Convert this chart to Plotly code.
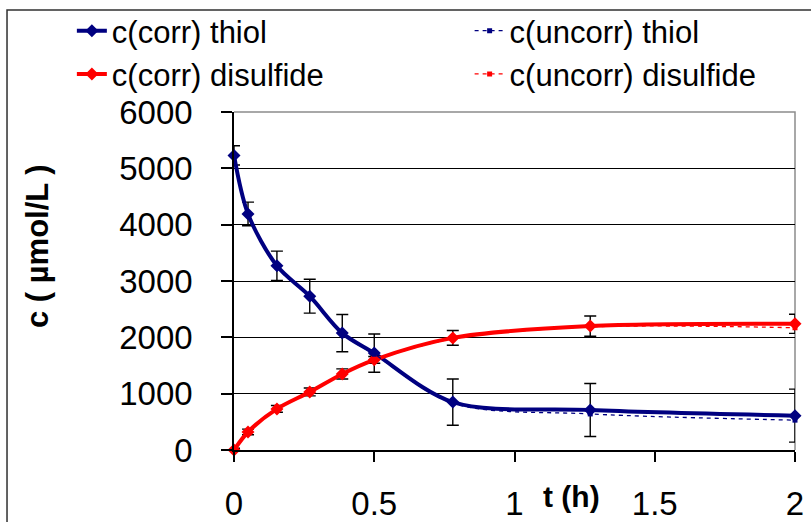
import plotly.graph_objects as go

# Sampling times (h)
t = [0.0, 0.05, 0.153, 0.27, 0.386, 0.5, 0.78, 1.27, 2.0]

# Corrected / uncorrected concentrations (µmol/L)
thiol_corr = [5230, 4190, 3270, 2730, 2075, 1720, 850, 710, 610]
thiol_corr_err = [170, 210, 260, 300, 330, 340, 410, 470, 470]
thiol_uncorr = [5220, 4180, 3250, 2710, 2060, 1700, 830, 640, 530]

disulf_corr = [0, 320, 730, 1030, 1350, 1600, 1990, 2200, 2240]
disulf_corr_err = [30, 50, 60, 70, 90, 60, 130, 180, 170]
disulf_uncorr = [0, 315, 725, 1025, 1340, 1590, 1975, 2185, 2170]

y_ticks = [0, 1000, 2000, 3000, 4000, 5000, 6000]
x_ticks = [0, 0.5, 1, 1.5, 2]
x_tick_text = ["0", "0.5", "1", "1.5", "2"]

NAVY = "#000080"
RED = "#FF0000"
FONT = "Arial, Liberation Sans, sans-serif"

err_style = dict(type="data", visible=True, color="black", thickness=1.4, width=6)

fig = go.Figure()
# corrected series (solid, with error bars) -> left legend column
fig.add_trace(go.Scatter(
    x=t, y=thiol_corr, name="c(corr) thiol", mode="lines+markers", legend="legend",
    line=dict(color=NAVY, width=4, shape="spline", smoothing=0.9),
    marker=dict(symbol="diamond", size=10, color=NAVY),
    error_y=dict(array=thiol_corr_err, **err_style), cliponaxis=False,
))
fig.add_trace(go.Scatter(
    x=t, y=disulf_corr, name="c(corr) disulfide", mode="lines+markers", legend="legend",
    line=dict(color=RED, width=4, shape="spline", smoothing=0.9),
    marker=dict(symbol="diamond", size=10, color=RED),
    error_y=dict(array=disulf_corr_err, **err_style), cliponaxis=False,
))
# uncorrected series (thin dashed) -> right legend column
fig.add_trace(go.Scatter(
    x=t, y=thiol_uncorr, name="c(uncorr) thiol", mode="lines+markers", legend="legend2",
    line=dict(color=NAVY, width=1.3, dash="4px,4px", shape="spline", smoothing=0.9),
    marker=dict(symbol="square", size=5, color=NAVY), cliponaxis=False,
))
fig.add_trace(go.Scatter(
    x=t, y=disulf_uncorr, name="c(uncorr) disulfide", mode="lines+markers", legend="legend2",
    line=dict(color=RED, width=1.3, dash="4px,4px", shape="spline", smoothing=0.9),
    marker=dict(symbol="square", size=5, color=RED), cliponaxis=False,
))

legend_common = dict(
    orientation="v", yanchor="top", xanchor="left", y=1.3195,
    font=dict(size=31), bgcolor="rgba(0,0,0,0)", tracegroupgap=0,
    traceorder="normal",
)

fig.update_layout(
    width=811, height=522,
    margin=dict(l=234, r=16, t=112, b=72, autoexpand=False),
    paper_bgcolor="white", plot_bgcolor="white",
    font=dict(family=FONT, size=33, color="black"),
    showlegend=True,
    legend=dict(x=-0.289, **legend_common),
    legend2=dict(x=0.420, **legend_common),
    xaxis=dict(
        range=[0, 2], tickvals=x_ticks, ticktext=x_tick_text,
        showgrid=False, zeroline=False, automargin=False,
        showline=True, linecolor="black", linewidth=1.5,
        ticks="outside", ticklen=10, tickwidth=1.5, tickcolor="black",
        ticklabelstandoff=14,
    ),
    yaxis=dict(
        range=[0, 6000], tickvals=y_ticks,
        showgrid=True, gridcolor="black", gridwidth=1.3, zeroline=False,
        automargin=False,
        showline=True, linecolor="black", linewidth=1.5,
        ticks="outside", ticklen=11, tickwidth=1.5, tickcolor="black",
        ticklabelstandoff=22,
    ),
    shapes=[
        # plot-area frame (top and right edges)
        dict(type="path", xref="paper", yref="paper",
             path="M 0 1 L 1 1 L 1 0", line=dict(color="#8c8c8c", width=1.5),
             layer="between"),
        # outer chart frame
        dict(type="rect", xref="paper", yref="paper",
             x0=-0.4046, x1=1.05, y0=-0.3, y1=1.302,
             line=dict(color="#303030", width=1.5), layer="below"),
    ],
    annotations=[
        dict(text="<b>c ( µmol/L )</b>", textangle=-90, xref="paper", yref="paper",
             x=-0.349, y=0.604, xanchor="center", yanchor="middle",
             showarrow=False, font=dict(size=31)),
        dict(text="<b>t</b> <b>(h)</b>", xref="paper", yref="paper",
             x=0.602, y=-0.139, xanchor="center", yanchor="middle",
             showarrow=False, font=dict(size=30)),
    ],
)

fig.write_html("out.html")
